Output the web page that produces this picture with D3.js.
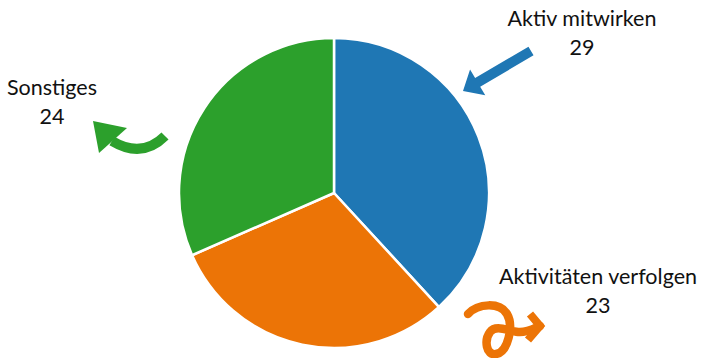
<!DOCTYPE html>
<html>
<head>
<meta charset="utf-8">
<script src="https://cdn.jsdelivr.net/npm/d3@7"></script>
<style>
  html, body { margin: 0; padding: 0; background: #fff; }
  svg { display: block; }
  text { font-family: Lato, "Open Sans", sans-serif; fill: #111; }
</style>
</head>
<body>
<svg id="chart" width="704" height="358"></svg>
<script>
// Survey answers, in drawing order (clockwise from 12 o'clock)
const categories = ["Aktiv mitwirken", "Aktivitäten verfolgen", "Sonstiges"];
const counts = [29, 23, 24];
const colors = ["#1f77b4", "#ec7406", "#2ca02c"];

const svg = d3.select("#chart");
const cx = 334, cy = 193, radius = 155;

const color = d3.scaleOrdinal().domain(categories).range(colors);

const pie = d3.pie().sort(null).value(d => d.count);
const arc = d3.arc().innerRadius(0).outerRadius(radius);

const data = categories.map((c, i) => ({ name: c, count: counts[i] }));

svg.append("g")
  .attr("transform", `translate(${cx},${cy})`)
  .selectAll("path")
  .data(pie(data))
  .join("path")
  .attr("d", arc)
  .attr("fill", d => color(d.data.name))
  .attr("stroke", "#fff")
  .attr("stroke-width", 2.5)
  .attr("stroke-linejoin", "round");

// Labels placed beside each slice
const labelPos = {
  "Aktiv mitwirken": [582, 26],
  "Aktivitäten verfolgen": [598, 284],
  "Sonstiges": [52, 95]
};

const labels = svg.append("g").selectAll("g")
  .data(data)
  .join("g")
  .attr("transform", d => `translate(${labelPos[d.name][0]},${labelPos[d.name][1]})`);

labels.append("text")
  .attr("text-anchor", "middle")
  .attr("font-size", 21.5)
  .text(d => d.name);
labels.append("text")
  .attr("text-anchor", "middle")
  .attr("font-size", 21.5)
  .attr("y", 29)
  .text(d => d.count);

// Pointer arrows from the labels towards the pie
const arrows = svg.append("g");

// Straight blue arrow: shaft plus triangular head
(function () {
  const tail = [531, 51], tip = [463, 91];
  const dx = tip[0] - tail[0], dy = tip[1] - tail[1];
  const len = Math.hypot(dx, dy);
  const ang = Math.atan2(dy, dx) * 180 / Math.PI;
  const hw = 5, headLen = 17, headHalf = 15;
  const g = arrows.append("g")
    .attr("transform", `translate(${tail[0]},${tail[1]}) rotate(${ang})`);
  g.append("path")
    .attr("fill", color("Aktiv mitwirken"))
    .attr("d", d3.line()([
      [0, -hw], [len - headLen, -hw], [len - headLen, -headHalf], [len, 0],
      [len - headLen, headHalf], [len - headLen, hw], [0, hw]
    ]) + "Z");
})();

// Curved green arrow
arrows.append("path")
  .attr("fill", "none")
  .attr("stroke", color("Sonstiges"))
  .attr("stroke-width", 10)
  .attr("d", "M165,136 Q142,159 112,141");
arrows.append("path")
  .attr("fill", color("Sonstiges"))
  .attr("d", d3.line()([[93, 121], [127, 128], [99, 153]]) + "Z");

// Looping orange arrow
arrows.append("path")
  .attr("fill", "none")
  .attr("stroke", color("Aktivitäten verfolgen"))
  .attr("stroke-width", 8.5)
  .attr("stroke-linecap", "round")
  .attr("d", "M468,314 C478,303 500,302 507,314 C514,326 508,352 496,354 C486,356 484,340 490,332 C496,324 508,331 518,332 C526,333 533,329 540,326");
arrows.append("path")
  .attr("fill", "none")
  .attr("stroke", color("Aktivitäten verfolgen"))
  .attr("stroke-width", 8)
  .attr("stroke-linejoin", "miter")
  .attr("d", "M530,314 L540,326 L528,340");
</script>
</body>
</html>
